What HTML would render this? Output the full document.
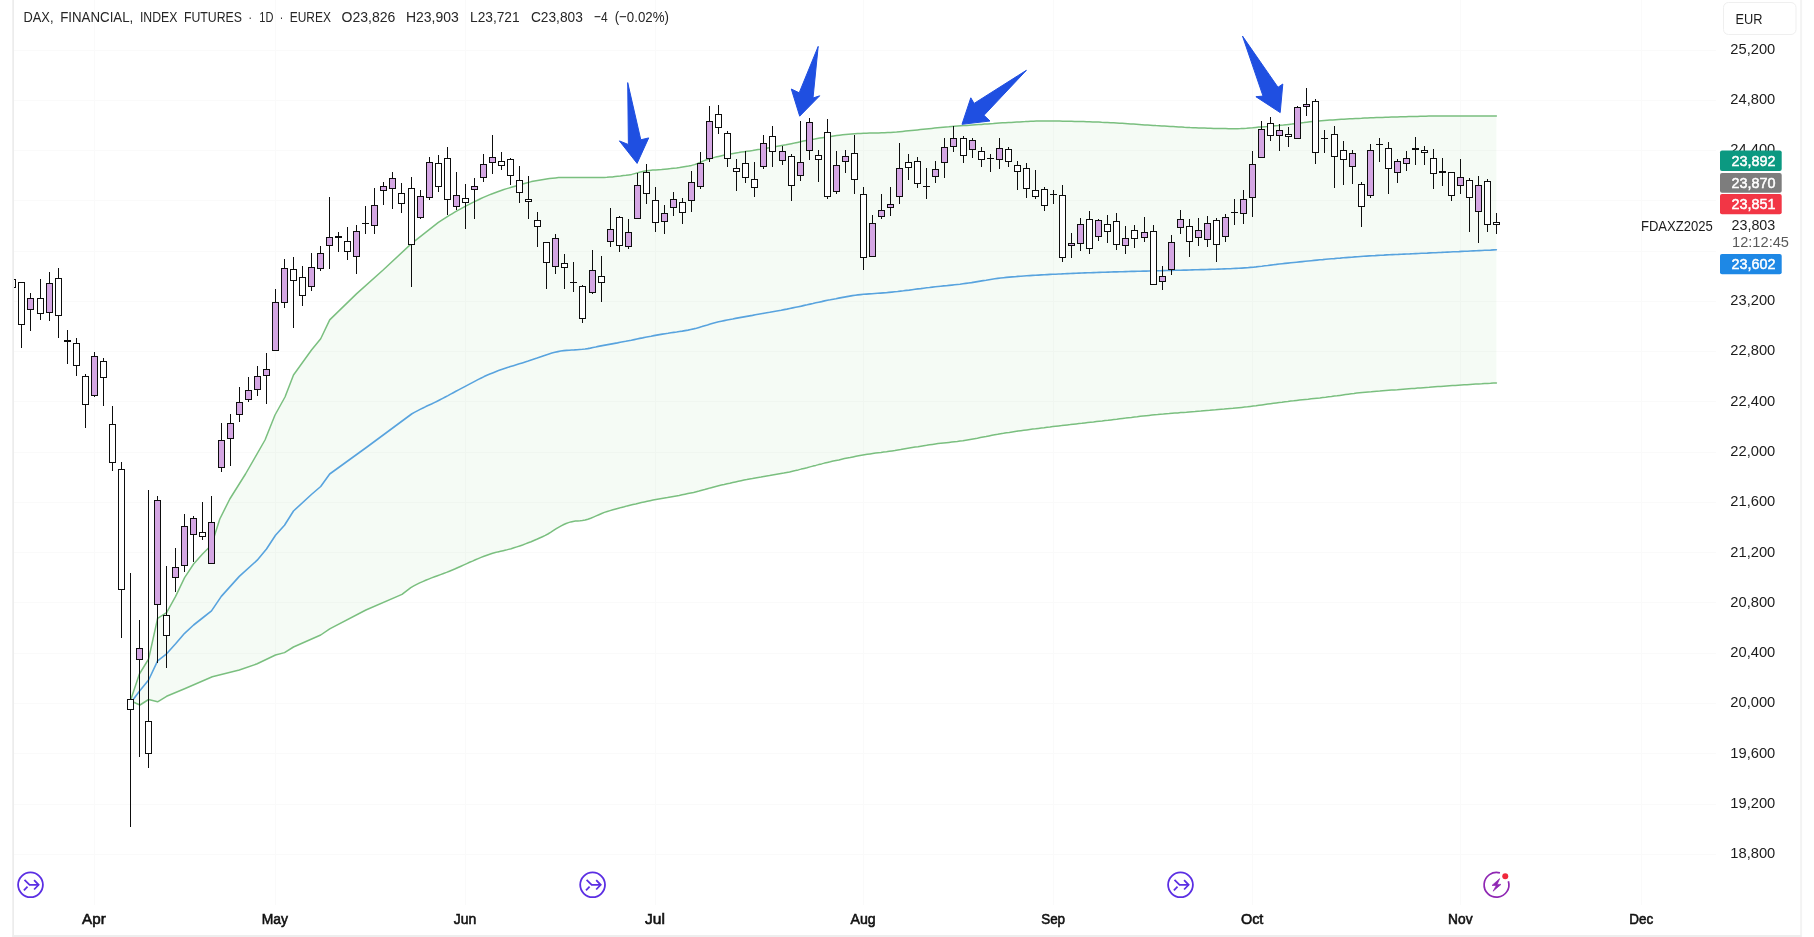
<!DOCTYPE html>
<html lang="en"><head><meta charset="utf-8"><title>DAX, FINANCIAL, INDEX FUTURES</title>
<style>
html,body{margin:0;padding:0;background:#fff;}
body{width:1814px;height:937px;overflow:hidden;position:relative;font-family:"Liberation Sans",sans-serif;}
svg{position:absolute;left:0;top:0;display:block;will-change:transform;}
text{font-family:"Liberation Sans",sans-serif;}
.ax{font-size:15px;fill:#1c1c1c;}
.mo{font-size:15.4px;fill:#111;stroke:#111;stroke-width:0.6px;}
.tag{font-size:14.8px;fill:#fff;stroke:#fff;stroke-width:0.5px;}
.hd{font-size:15.4px;fill:#262626;}
</style></head><body>
<svg width="1814" height="937" viewBox="0 0 1814 937">
<defs><clipPath id="pane"><rect x="14" y="0" width="1703" height="905"/></clipPath></defs>
<rect x="0" y="0" width="1814" height="937" fill="#ffffff"/>
<rect x="12.3" y="0" width="1.7" height="937" fill="#ececec"/>
<rect x="1800.1" y="0" width="2" height="937" fill="#f3f3f3"/>
<rect x="12.3" y="935" width="1789" height="2" fill="#eeeeee"/>
<g stroke="#fafafa" stroke-width="1" shape-rendering="crispEdges">
<line x1="94.5" y1="0" x2="94.5" y2="905"/>
<line x1="275.5" y1="0" x2="275.5" y2="905"/>
<line x1="465.5" y1="0" x2="465.5" y2="905"/>
<line x1="655.5" y1="0" x2="655.5" y2="905"/>
<line x1="863.5" y1="0" x2="863.5" y2="905"/>
<line x1="1053.5" y1="0" x2="1053.5" y2="905"/>
<line x1="1252.5" y1="0" x2="1252.5" y2="905"/>
<line x1="1460.5" y1="0" x2="1460.5" y2="905"/>
<line x1="1641.5" y1="0" x2="1641.5" y2="905"/>
<line x1="14" y1="50.5" x2="1716" y2="50.5"/>
<line x1="14" y1="100.5" x2="1716" y2="100.5"/>
<line x1="14" y1="150.5" x2="1716" y2="150.5"/>
<line x1="14" y1="200.5" x2="1716" y2="200.5"/>
<line x1="14" y1="251.5" x2="1716" y2="251.5"/>
<line x1="14" y1="301.5" x2="1716" y2="301.5"/>
<line x1="14" y1="351.5" x2="1716" y2="351.5"/>
<line x1="14" y1="401.5" x2="1716" y2="401.5"/>
<line x1="14" y1="452.5" x2="1716" y2="452.5"/>
<line x1="14" y1="502.5" x2="1716" y2="502.5"/>
<line x1="14" y1="552.5" x2="1716" y2="552.5"/>
<line x1="14" y1="602.5" x2="1716" y2="602.5"/>
<line x1="14" y1="653.5" x2="1716" y2="653.5"/>
<line x1="14" y1="703.5" x2="1716" y2="703.5"/>
<line x1="14" y1="753.5" x2="1716" y2="753.5"/>
<line x1="14" y1="804.5" x2="1716" y2="804.5"/>
<line x1="14" y1="854.5" x2="1716" y2="854.5"/>
</g>
<g clip-path="url(#pane)">
<polygon fill="#4caf50" fill-opacity="0.055" points="131.0,699.0 139.4,674.0 148.6,659.0 157.6,618.4 166.6,612.6 175.6,596.4 184.6,577.6 193.6,564.0 202.5,554.0 211.5,545.0 219.8,519.0 229.8,499.0 245.5,474.0 265.0,440.0 275.0,415.0 285.0,397.0 293.5,375.0 311.5,350.0 320.7,338.7 329.7,319.9 356.7,293.6 383.4,269.8 411.4,243.6 438.4,222.4 441.1,220.6 443.8,218.8 446.6,217.1 449.3,215.4 452.0,213.8 454.7,212.2 457.4,210.6 460.2,209.1 462.9,207.6 465.6,206.2 468.6,204.7 471.5,203.1 474.5,201.6 477.5,200.2 480.4,198.8 483.4,197.4 486.4,196.1 489.3,194.9 492.3,193.7 495.0,192.7 497.7,191.7 500.5,190.7 503.2,189.8 505.9,188.9 508.6,188.1 511.3,187.3 514.1,186.5 516.8,185.7 519.5,184.9 522.5,184.0 525.5,183.2 528.5,182.4 531.5,181.6 534.5,180.9 537.5,180.4 540.5,179.9 543.5,179.4 546.5,179.0 549.5,178.6 552.5,178.2 555.5,177.9 558.5,177.6 561.5,177.5 564.5,177.4 567.3,177.4 570.2,177.4 573.0,177.4 575.9,177.4 578.7,177.4 581.6,177.4 584.4,177.4 587.3,177.4 590.1,177.4 593.0,177.4 595.8,177.4 598.7,177.4 601.5,177.4 604.2,177.4 606.9,177.3 609.7,177.1 612.4,176.9 615.1,176.6 617.8,176.3 620.5,176.0 623.3,175.6 626.0,175.3 628.7,174.9 631.7,174.4 634.7,173.6 637.7,172.8 640.7,171.9 643.7,171.2 646.7,170.7 649.7,170.4 652.7,170.1 655.7,169.9 658.6,169.7 661.6,169.5 664.6,169.2 667.6,168.9 670.6,168.6 673.6,168.2 676.6,167.9 679.6,167.5 682.6,167.0 685.6,166.5 688.6,166.0 691.6,165.4 694.6,164.6 697.6,163.5 700.6,162.2 703.6,160.9 706.6,159.7 709.6,158.7 712.6,157.9 715.6,157.1 718.6,156.4 721.6,155.7 724.6,155.1 727.6,154.5 730.4,154.0 733.2,153.5 735.9,153.0 738.7,152.6 741.5,152.1 744.3,151.7 747.0,151.3 749.8,150.9 752.6,150.5 755.4,150.0 758.1,149.6 760.9,149.2 763.7,148.7 766.5,148.2 769.2,147.7 772.0,147.3 774.8,146.8 777.5,146.3 780.3,145.8 783.1,145.3 785.9,144.8 788.6,144.2 791.4,143.7 794.4,143.1 797.4,142.4 800.4,141.8 803.4,141.1 806.4,140.5 809.4,139.9 812.0,139.4 814.6,139.0 817.2,138.5 819.8,138.1 822.4,137.7 825.0,137.3 827.6,136.9 830.6,136.5 833.6,136.0 836.6,135.6 839.6,135.2 842.6,134.8 845.6,134.5 848.6,134.2 851.6,133.9 854.6,133.7 857.6,133.5 860.6,133.4 863.6,133.3 866.6,133.2 869.6,133.1 872.6,133.0 875.6,133.0 878.6,132.9 881.6,132.8 884.6,132.7 887.6,132.5 890.6,132.4 893.6,132.2 896.6,132.0 899.6,131.7 902.6,131.4 905.5,131.1 908.5,130.8 911.5,130.5 914.5,130.2 917.5,129.9 920.3,129.6 923.2,129.3 926.0,129.0 928.9,128.7 931.7,128.4 934.6,128.1 937.4,127.8 940.3,127.5 943.1,127.2 946.0,126.9 948.8,126.7 951.7,126.4 954.5,126.2 957.5,126.0 960.5,125.8 963.5,125.6 966.5,125.4 969.5,125.2 972.5,125.0 975.5,124.8 978.5,124.6 981.5,124.4 984.5,124.1 987.5,123.9 990.5,123.7 993.4,123.5 996.4,123.2 999.4,123.0 1002.4,122.8 1005.4,122.7 1008.4,122.5 1011.2,122.4 1014.0,122.2 1016.8,122.0 1019.6,121.9 1022.4,121.7 1025.2,121.6 1027.9,121.4 1030.7,121.3 1033.5,121.2 1036.3,121.1 1039.1,121.1 1041.9,121.0 1044.7,121.0 1047.7,121.0 1050.7,121.0 1053.7,121.0 1056.7,121.1 1059.7,121.1 1062.7,121.2 1065.6,121.2 1068.6,121.3 1071.6,121.3 1074.6,121.4 1077.6,121.4 1080.6,121.5 1083.6,121.6 1086.6,121.7 1089.6,121.8 1092.6,121.9 1095.6,122.0 1098.6,122.1 1101.6,122.3 1104.6,122.4 1107.6,122.5 1110.6,122.7 1113.6,122.8 1116.6,123.0 1119.4,123.2 1122.2,123.3 1125.0,123.5 1127.9,123.7 1130.7,123.9 1133.5,124.1 1136.3,124.3 1139.1,124.5 1141.9,124.7 1144.8,124.9 1147.6,125.0 1150.4,125.2 1153.2,125.4 1156.0,125.6 1158.9,125.7 1161.7,125.9 1164.5,126.1 1167.4,126.3 1170.2,126.5 1173.1,126.6 1175.9,126.8 1178.7,127.0 1181.6,127.1 1184.4,127.3 1187.2,127.4 1190.1,127.6 1192.9,127.7 1195.8,127.8 1198.6,127.9 1201.6,128.0 1204.6,128.1 1207.6,128.2 1210.6,128.3 1213.6,128.4 1216.6,128.4 1219.6,128.5 1222.6,128.6 1225.6,128.6 1228.6,128.7 1231.6,128.7 1234.6,128.7 1237.6,128.7 1240.6,128.6 1243.6,128.4 1246.6,128.2 1249.6,127.9 1252.6,127.7 1255.6,127.4 1258.6,127.1 1261.6,126.9 1264.3,126.7 1267.0,126.5 1269.8,126.2 1272.5,126.0 1275.2,125.7 1277.9,125.5 1280.6,125.2 1283.4,125.0 1286.1,124.7 1288.8,124.4 1291.8,124.1 1294.8,123.7 1297.8,123.3 1300.8,122.9 1303.8,122.6 1306.8,122.2 1309.8,121.8 1312.8,121.5 1315.8,121.2 1318.6,121.0 1321.4,120.7 1324.3,120.5 1327.1,120.3 1329.9,120.1 1332.7,119.9 1335.6,119.7 1338.4,119.5 1341.2,119.3 1344.0,119.2 1346.9,119.0 1349.7,118.8 1352.5,118.7 1355.5,118.5 1358.5,118.4 1361.5,118.3 1364.5,118.1 1367.5,118.0 1370.5,117.8 1373.5,117.7 1376.4,117.6 1379.4,117.5 1382.4,117.4 1385.4,117.3 1388.4,117.2 1391.4,117.1 1394.4,117.0 1397.4,116.9 1400.3,116.8 1403.1,116.8 1406.0,116.7 1408.8,116.6 1411.7,116.5 1414.5,116.5 1417.4,116.4 1420.2,116.3 1423.1,116.3 1425.9,116.2 1428.8,116.1 1431.6,116.1 1434.5,116.0 1437.3,116.0 1440.2,116.0 1443.0,115.9 1445.9,115.9 1448.7,115.9 1451.6,115.9 1454.6,115.9 1457.6,115.9 1460.6,115.9 1463.5,115.9 1466.5,115.9 1469.5,115.9 1472.5,115.9 1475.5,115.9 1478.5,115.9 1481.5,115.9 1484.5,115.9 1487.4,115.9 1490.4,115.9 1493.4,115.9 1496.4,115.9 1496.4,382.9 1493.5,383.1 1490.5,383.3 1487.6,383.4 1484.7,383.6 1481.7,383.8 1478.8,383.9 1475.8,384.1 1472.9,384.3 1470.0,384.5 1467.0,384.7 1464.1,384.8 1461.2,385.0 1458.2,385.2 1455.3,385.4 1452.4,385.6 1449.5,385.8 1446.6,386.0 1443.7,386.2 1440.8,386.4 1437.9,386.6 1435.0,386.8 1432.1,387.0 1429.2,387.3 1426.3,387.5 1423.4,387.7 1420.5,387.9 1417.6,388.1 1414.7,388.4 1411.8,388.6 1408.9,388.8 1406.0,389.0 1403.1,389.2 1400.2,389.4 1397.3,389.7 1394.4,389.9 1391.5,390.1 1388.6,390.3 1385.7,390.5 1382.7,390.7 1379.8,391.0 1376.9,391.2 1374.0,391.4 1371.1,391.7 1368.2,391.9 1365.3,392.2 1362.4,392.5 1359.6,392.8 1356.8,393.1 1354.0,393.5 1351.2,393.8 1348.4,394.2 1345.5,394.6 1342.7,395.0 1339.9,395.4 1337.1,395.8 1334.3,396.1 1331.5,396.5 1328.6,396.8 1325.7,397.2 1322.8,397.5 1319.9,397.9 1317.0,398.2 1314.1,398.5 1311.2,398.8 1308.2,399.2 1305.3,399.5 1302.4,399.8 1299.5,400.1 1296.6,400.4 1293.7,400.8 1290.8,401.1 1287.9,401.5 1285.0,401.8 1282.1,402.2 1279.2,402.5 1276.3,402.9 1273.5,403.3 1270.6,403.7 1267.7,404.1 1264.8,404.5 1261.9,404.9 1259.0,405.3 1256.1,405.7 1253.2,406.0 1250.4,406.4 1247.5,406.8 1244.6,407.1 1241.7,407.4 1238.8,407.7 1235.9,408.0 1233.0,408.3 1230.1,408.5 1227.1,408.8 1224.2,409.1 1221.3,409.3 1218.4,409.5 1215.5,409.8 1212.6,410.0 1209.7,410.3 1206.8,410.5 1203.8,410.7 1200.9,411.0 1198.0,411.2 1195.1,411.5 1192.2,411.7 1189.3,411.9 1186.4,412.2 1183.6,412.4 1180.7,412.6 1177.8,412.9 1174.9,413.1 1172.1,413.3 1169.2,413.6 1166.3,413.8 1163.4,414.1 1160.5,414.3 1157.7,414.6 1154.8,414.8 1151.9,415.1 1149.0,415.4 1146.1,415.7 1143.1,416.0 1140.2,416.3 1137.3,416.7 1134.4,417.0 1131.4,417.4 1128.5,417.7 1125.6,418.1 1122.7,418.4 1119.8,418.8 1116.8,419.2 1113.9,419.5 1111.0,419.9 1108.1,420.3 1105.1,420.6 1102.2,421.0 1099.3,421.3 1096.4,421.6 1093.5,422.0 1090.6,422.3 1087.7,422.6 1084.8,422.9 1081.9,423.3 1079.0,423.6 1076.1,423.9 1073.2,424.2 1070.3,424.6 1067.4,424.9 1064.5,425.2 1061.6,425.6 1058.7,425.9 1055.8,426.2 1052.9,426.6 1050.0,427.0 1047.1,427.3 1044.2,427.7 1041.3,428.0 1038.4,428.4 1035.5,428.8 1032.6,429.1 1029.7,429.5 1026.7,429.9 1023.8,430.3 1020.9,430.7 1018.0,431.1 1015.1,431.5 1012.2,431.9 1009.3,432.4 1006.4,432.8 1003.5,433.3 1000.6,433.7 997.7,434.3 994.8,434.8 991.9,435.3 989.0,435.9 986.1,436.5 983.2,437.0 980.3,437.6 977.4,438.2 974.5,438.7 971.6,439.2 968.7,439.7 965.8,440.2 962.9,440.7 960.0,441.1 957.3,441.5 954.5,441.8 951.8,442.1 949.0,442.4 946.3,442.7 943.5,443.0 940.8,443.3 938.0,443.6 935.3,444.0 932.4,444.4 929.5,444.8 926.6,445.3 923.8,445.7 920.9,446.2 918.0,446.7 915.1,447.1 912.2,447.6 909.3,448.1 906.4,448.6 903.5,449.1 900.7,449.6 897.8,450.0 894.9,450.5 892.0,450.9 889.2,451.3 886.5,451.7 883.7,452.0 881.0,452.4 878.2,452.7 875.5,453.1 872.7,453.5 870.0,453.9 867.2,454.3 864.4,454.8 861.5,455.3 858.7,455.8 855.9,456.3 853.0,456.9 850.2,457.5 847.4,458.0 844.5,458.6 841.7,459.2 838.9,459.9 836.0,460.5 833.2,461.1 830.3,461.8 827.4,462.4 824.5,463.1 821.6,463.9 818.7,464.6 815.8,465.4 812.9,466.1 810.0,466.9 807.0,467.7 804.1,468.4 801.2,469.1 798.3,469.9 795.4,470.6 792.5,471.2 789.6,471.9 786.7,472.5 783.8,473.1 781.0,473.6 778.1,474.1 775.3,474.6 772.4,475.1 769.6,475.6 766.7,476.0 763.9,476.5 761.0,477.0 758.2,477.4 755.3,477.9 752.5,478.5 749.6,479.0 746.8,479.6 744.0,480.1 741.1,480.7 738.3,481.3 735.5,481.9 732.7,482.5 729.9,483.2 727.1,483.8 724.2,484.5 721.4,485.1 718.6,485.8 715.8,486.5 713.0,487.2 710.3,487.9 707.5,488.7 704.7,489.5 701.9,490.2 699.1,491.0 696.4,491.7 693.6,492.4 690.8,493.0 687.9,493.6 685.0,494.2 682.1,494.8 679.2,495.4 676.3,495.9 673.4,496.4 670.5,496.9 667.5,497.5 664.6,498.0 661.7,498.5 658.8,499.0 655.9,499.5 653.0,500.1 650.1,500.7 647.2,501.3 644.3,501.9 641.4,502.5 638.6,503.2 635.7,503.9 632.9,504.5 630.0,505.2 627.2,505.9 624.3,506.7 621.5,507.4 618.6,508.2 615.8,509.0 612.9,509.8 610.1,510.6 607.2,511.5 604.4,512.4 601.7,513.5 598.9,514.7 596.2,515.9 593.4,517.1 590.7,518.2 587.9,519.2 585.2,520.0 582.4,520.5 580.1,520.8 577.8,520.9 575.4,521.1 573.1,521.4 570.8,521.9 568.5,522.6 566.1,523.5 563.8,524.5 561.2,525.8 558.5,527.3 555.9,528.9 553.2,530.7 550.6,532.4 547.9,534.0 545.3,535.4 542.5,536.7 539.6,538.0 536.8,539.3 533.9,540.5 531.1,541.7 528.2,542.8 525.4,543.9 522.6,545.0 519.7,546.0 516.9,546.9 514.0,547.8 511.2,548.7 508.5,549.4 505.9,550.1 503.2,550.7 500.6,551.3 497.9,551.9 495.3,552.6 492.6,553.3 489.7,554.2 486.9,555.2 484.0,556.3 481.1,557.4 478.2,558.6 475.4,559.8 472.5,561.1 469.6,562.3 466.8,563.6 463.9,564.9 461.0,566.2 458.1,567.5 455.3,568.8 452.4,570.0 449.4,571.2 446.5,572.4 443.5,573.5 440.5,574.6 437.5,575.7 434.6,576.8 431.6,577.9 428.6,579.1 425.7,580.3 422.7,581.6 419.7,582.9 416.7,584.4 413.8,585.9 410.8,587.6 402.0,594.4 365.9,610.0 329.7,628.8 320.7,635.0 293.5,647.0 284.5,652.6 275.5,655.0 257.2,663.8 239.3,670.0 212.3,676.8 184.6,688.8 166.6,696.3 157.6,701.8 148.6,699.5 140.0,705.0 136.0,703.3 131.0,701.0"/>
<polyline fill="none" stroke="#7abf7f" stroke-width="1.5" stroke-linejoin="round" stroke-linecap="round" points="131.0,699.0 139.4,674.0 148.6,659.0 157.6,618.4 166.6,612.6 175.6,596.4 184.6,577.6 193.6,564.0 202.5,554.0 211.5,545.0 219.8,519.0 229.8,499.0 245.5,474.0 265.0,440.0 275.0,415.0 285.0,397.0 293.5,375.0 311.5,350.0 320.7,338.7 329.7,319.9 356.7,293.6 383.4,269.8 411.4,243.6 438.4,222.4 441.1,220.6 443.8,218.8 446.6,217.1 449.3,215.4 452.0,213.8 454.7,212.2 457.4,210.6 460.2,209.1 462.9,207.6 465.6,206.2 468.6,204.7 471.5,203.1 474.5,201.6 477.5,200.2 480.4,198.8 483.4,197.4 486.4,196.1 489.3,194.9 492.3,193.7 495.0,192.7 497.7,191.7 500.5,190.7 503.2,189.8 505.9,188.9 508.6,188.1 511.3,187.3 514.1,186.5 516.8,185.7 519.5,184.9 522.5,184.0 525.5,183.2 528.5,182.4 531.5,181.6 534.5,180.9 537.5,180.4 540.5,179.9 543.5,179.4 546.5,179.0 549.5,178.6 552.5,178.2 555.5,177.9 558.5,177.6 561.5,177.5 564.5,177.4 567.3,177.4 570.2,177.4 573.0,177.4 575.9,177.4 578.7,177.4 581.6,177.4 584.4,177.4 587.3,177.4 590.1,177.4 593.0,177.4 595.8,177.4 598.7,177.4 601.5,177.4 604.2,177.4 606.9,177.3 609.7,177.1 612.4,176.9 615.1,176.6 617.8,176.3 620.5,176.0 623.3,175.6 626.0,175.3 628.7,174.9 631.7,174.4 634.7,173.6 637.7,172.8 640.7,171.9 643.7,171.2 646.7,170.7 649.7,170.4 652.7,170.1 655.7,169.9 658.6,169.7 661.6,169.5 664.6,169.2 667.6,168.9 670.6,168.6 673.6,168.2 676.6,167.9 679.6,167.5 682.6,167.0 685.6,166.5 688.6,166.0 691.6,165.4 694.6,164.6 697.6,163.5 700.6,162.2 703.6,160.9 706.6,159.7 709.6,158.7 712.6,157.9 715.6,157.1 718.6,156.4 721.6,155.7 724.6,155.1 727.6,154.5 730.4,154.0 733.2,153.5 735.9,153.0 738.7,152.6 741.5,152.1 744.3,151.7 747.0,151.3 749.8,150.9 752.6,150.5 755.4,150.0 758.1,149.6 760.9,149.2 763.7,148.7 766.5,148.2 769.2,147.7 772.0,147.3 774.8,146.8 777.5,146.3 780.3,145.8 783.1,145.3 785.9,144.8 788.6,144.2 791.4,143.7 794.4,143.1 797.4,142.4 800.4,141.8 803.4,141.1 806.4,140.5 809.4,139.9 812.0,139.4 814.6,139.0 817.2,138.5 819.8,138.1 822.4,137.7 825.0,137.3 827.6,136.9 830.6,136.5 833.6,136.0 836.6,135.6 839.6,135.2 842.6,134.8 845.6,134.5 848.6,134.2 851.6,133.9 854.6,133.7 857.6,133.5 860.6,133.4 863.6,133.3 866.6,133.2 869.6,133.1 872.6,133.0 875.6,133.0 878.6,132.9 881.6,132.8 884.6,132.7 887.6,132.5 890.6,132.4 893.6,132.2 896.6,132.0 899.6,131.7 902.6,131.4 905.5,131.1 908.5,130.8 911.5,130.5 914.5,130.2 917.5,129.9 920.3,129.6 923.2,129.3 926.0,129.0 928.9,128.7 931.7,128.4 934.6,128.1 937.4,127.8 940.3,127.5 943.1,127.2 946.0,126.9 948.8,126.7 951.7,126.4 954.5,126.2 957.5,126.0 960.5,125.8 963.5,125.6 966.5,125.4 969.5,125.2 972.5,125.0 975.5,124.8 978.5,124.6 981.5,124.4 984.5,124.1 987.5,123.9 990.5,123.7 993.4,123.5 996.4,123.2 999.4,123.0 1002.4,122.8 1005.4,122.7 1008.4,122.5 1011.2,122.4 1014.0,122.2 1016.8,122.0 1019.6,121.9 1022.4,121.7 1025.2,121.6 1027.9,121.4 1030.7,121.3 1033.5,121.2 1036.3,121.1 1039.1,121.1 1041.9,121.0 1044.7,121.0 1047.7,121.0 1050.7,121.0 1053.7,121.0 1056.7,121.1 1059.7,121.1 1062.7,121.2 1065.6,121.2 1068.6,121.3 1071.6,121.3 1074.6,121.4 1077.6,121.4 1080.6,121.5 1083.6,121.6 1086.6,121.7 1089.6,121.8 1092.6,121.9 1095.6,122.0 1098.6,122.1 1101.6,122.3 1104.6,122.4 1107.6,122.5 1110.6,122.7 1113.6,122.8 1116.6,123.0 1119.4,123.2 1122.2,123.3 1125.0,123.5 1127.9,123.7 1130.7,123.9 1133.5,124.1 1136.3,124.3 1139.1,124.5 1141.9,124.7 1144.8,124.9 1147.6,125.0 1150.4,125.2 1153.2,125.4 1156.0,125.6 1158.9,125.7 1161.7,125.9 1164.5,126.1 1167.4,126.3 1170.2,126.5 1173.1,126.6 1175.9,126.8 1178.7,127.0 1181.6,127.1 1184.4,127.3 1187.2,127.4 1190.1,127.6 1192.9,127.7 1195.8,127.8 1198.6,127.9 1201.6,128.0 1204.6,128.1 1207.6,128.2 1210.6,128.3 1213.6,128.4 1216.6,128.4 1219.6,128.5 1222.6,128.6 1225.6,128.6 1228.6,128.7 1231.6,128.7 1234.6,128.7 1237.6,128.7 1240.6,128.6 1243.6,128.4 1246.6,128.2 1249.6,127.9 1252.6,127.7 1255.6,127.4 1258.6,127.1 1261.6,126.9 1264.3,126.7 1267.0,126.5 1269.8,126.2 1272.5,126.0 1275.2,125.7 1277.9,125.5 1280.6,125.2 1283.4,125.0 1286.1,124.7 1288.8,124.4 1291.8,124.1 1294.8,123.7 1297.8,123.3 1300.8,122.9 1303.8,122.6 1306.8,122.2 1309.8,121.8 1312.8,121.5 1315.8,121.2 1318.6,121.0 1321.4,120.7 1324.3,120.5 1327.1,120.3 1329.9,120.1 1332.7,119.9 1335.6,119.7 1338.4,119.5 1341.2,119.3 1344.0,119.2 1346.9,119.0 1349.7,118.8 1352.5,118.7 1355.5,118.5 1358.5,118.4 1361.5,118.3 1364.5,118.1 1367.5,118.0 1370.5,117.8 1373.5,117.7 1376.4,117.6 1379.4,117.5 1382.4,117.4 1385.4,117.3 1388.4,117.2 1391.4,117.1 1394.4,117.0 1397.4,116.9 1400.3,116.8 1403.1,116.8 1406.0,116.7 1408.8,116.6 1411.7,116.5 1414.5,116.5 1417.4,116.4 1420.2,116.3 1423.1,116.3 1425.9,116.2 1428.8,116.1 1431.6,116.1 1434.5,116.0 1437.3,116.0 1440.2,116.0 1443.0,115.9 1445.9,115.9 1448.7,115.9 1451.6,115.9 1454.6,115.9 1457.6,115.9 1460.6,115.9 1463.5,115.9 1466.5,115.9 1469.5,115.9 1472.5,115.9 1475.5,115.9 1478.5,115.9 1481.5,115.9 1484.5,115.9 1487.4,115.9 1490.4,115.9 1493.4,115.9 1496.4,115.9"/>
<polyline fill="none" stroke="#7abf7f" stroke-width="1.5" stroke-linejoin="round" stroke-linecap="round" points="131.0,701.0 136.0,703.3 140.0,705.0 148.6,699.5 157.6,701.8 166.6,696.3 184.6,688.8 212.3,676.8 239.3,670.0 257.2,663.8 275.5,655.0 284.5,652.6 293.5,647.0 320.7,635.0 329.7,628.8 365.9,610.0 402.0,594.4 410.8,587.6 413.8,585.9 416.7,584.4 419.7,582.9 422.7,581.6 425.7,580.3 428.6,579.1 431.6,577.9 434.6,576.8 437.5,575.7 440.5,574.6 443.5,573.5 446.5,572.4 449.4,571.2 452.4,570.0 455.3,568.8 458.1,567.5 461.0,566.2 463.9,564.9 466.8,563.6 469.6,562.3 472.5,561.1 475.4,559.8 478.2,558.6 481.1,557.4 484.0,556.3 486.9,555.2 489.7,554.2 492.6,553.3 495.3,552.6 497.9,551.9 500.6,551.3 503.2,550.7 505.9,550.1 508.5,549.4 511.2,548.7 514.0,547.8 516.9,546.9 519.7,546.0 522.6,545.0 525.4,543.9 528.2,542.8 531.1,541.7 533.9,540.5 536.8,539.3 539.6,538.0 542.5,536.7 545.3,535.4 547.9,534.0 550.6,532.4 553.2,530.7 555.9,528.9 558.5,527.3 561.2,525.8 563.8,524.5 566.1,523.5 568.5,522.6 570.8,521.9 573.1,521.4 575.4,521.1 577.8,520.9 580.1,520.8 582.4,520.5 585.2,520.0 587.9,519.2 590.7,518.2 593.4,517.1 596.2,515.9 598.9,514.7 601.7,513.5 604.4,512.4 607.2,511.5 610.1,510.6 612.9,509.8 615.8,509.0 618.6,508.2 621.5,507.4 624.3,506.7 627.2,505.9 630.0,505.2 632.9,504.5 635.7,503.9 638.6,503.2 641.4,502.5 644.3,501.9 647.2,501.3 650.1,500.7 653.0,500.1 655.9,499.5 658.8,499.0 661.7,498.5 664.6,498.0 667.5,497.5 670.5,496.9 673.4,496.4 676.3,495.9 679.2,495.4 682.1,494.8 685.0,494.2 687.9,493.6 690.8,493.0 693.6,492.4 696.4,491.7 699.1,491.0 701.9,490.2 704.7,489.5 707.5,488.7 710.3,487.9 713.0,487.2 715.8,486.5 718.6,485.8 721.4,485.1 724.2,484.5 727.1,483.8 729.9,483.2 732.7,482.5 735.5,481.9 738.3,481.3 741.1,480.7 744.0,480.1 746.8,479.6 749.6,479.0 752.5,478.5 755.3,477.9 758.2,477.4 761.0,477.0 763.9,476.5 766.7,476.0 769.6,475.6 772.4,475.1 775.3,474.6 778.1,474.1 781.0,473.6 783.8,473.1 786.7,472.5 789.6,471.9 792.5,471.2 795.4,470.6 798.3,469.9 801.2,469.1 804.1,468.4 807.0,467.7 810.0,466.9 812.9,466.1 815.8,465.4 818.7,464.6 821.6,463.9 824.5,463.1 827.4,462.4 830.3,461.8 833.2,461.1 836.0,460.5 838.9,459.9 841.7,459.2 844.5,458.6 847.4,458.0 850.2,457.5 853.0,456.9 855.9,456.3 858.7,455.8 861.5,455.3 864.4,454.8 867.2,454.3 870.0,453.9 872.7,453.5 875.5,453.1 878.2,452.7 881.0,452.4 883.7,452.0 886.5,451.7 889.2,451.3 892.0,450.9 894.9,450.5 897.8,450.0 900.7,449.6 903.5,449.1 906.4,448.6 909.3,448.1 912.2,447.6 915.1,447.1 918.0,446.7 920.9,446.2 923.8,445.7 926.6,445.3 929.5,444.8 932.4,444.4 935.3,444.0 938.0,443.6 940.8,443.3 943.5,443.0 946.3,442.7 949.0,442.4 951.8,442.1 954.5,441.8 957.3,441.5 960.0,441.1 962.9,440.7 965.8,440.2 968.7,439.7 971.6,439.2 974.5,438.7 977.4,438.2 980.3,437.6 983.2,437.0 986.1,436.5 989.0,435.9 991.9,435.3 994.8,434.8 997.7,434.3 1000.6,433.7 1003.5,433.3 1006.4,432.8 1009.3,432.4 1012.2,431.9 1015.1,431.5 1018.0,431.1 1020.9,430.7 1023.8,430.3 1026.7,429.9 1029.7,429.5 1032.6,429.1 1035.5,428.8 1038.4,428.4 1041.3,428.0 1044.2,427.7 1047.1,427.3 1050.0,427.0 1052.9,426.6 1055.8,426.2 1058.7,425.9 1061.6,425.6 1064.5,425.2 1067.4,424.9 1070.3,424.6 1073.2,424.2 1076.1,423.9 1079.0,423.6 1081.9,423.3 1084.8,422.9 1087.7,422.6 1090.6,422.3 1093.5,422.0 1096.4,421.6 1099.3,421.3 1102.2,421.0 1105.1,420.6 1108.1,420.3 1111.0,419.9 1113.9,419.5 1116.8,419.2 1119.8,418.8 1122.7,418.4 1125.6,418.1 1128.5,417.7 1131.4,417.4 1134.4,417.0 1137.3,416.7 1140.2,416.3 1143.1,416.0 1146.1,415.7 1149.0,415.4 1151.9,415.1 1154.8,414.8 1157.7,414.6 1160.5,414.3 1163.4,414.1 1166.3,413.8 1169.2,413.6 1172.1,413.3 1174.9,413.1 1177.8,412.9 1180.7,412.6 1183.6,412.4 1186.4,412.2 1189.3,411.9 1192.2,411.7 1195.1,411.5 1198.0,411.2 1200.9,411.0 1203.8,410.7 1206.8,410.5 1209.7,410.3 1212.6,410.0 1215.5,409.8 1218.4,409.5 1221.3,409.3 1224.2,409.1 1227.1,408.8 1230.1,408.5 1233.0,408.3 1235.9,408.0 1238.8,407.7 1241.7,407.4 1244.6,407.1 1247.5,406.8 1250.4,406.4 1253.2,406.0 1256.1,405.7 1259.0,405.3 1261.9,404.9 1264.8,404.5 1267.7,404.1 1270.6,403.7 1273.5,403.3 1276.3,402.9 1279.2,402.5 1282.1,402.2 1285.0,401.8 1287.9,401.5 1290.8,401.1 1293.7,400.8 1296.6,400.4 1299.5,400.1 1302.4,399.8 1305.3,399.5 1308.2,399.2 1311.2,398.8 1314.1,398.5 1317.0,398.2 1319.9,397.9 1322.8,397.5 1325.7,397.2 1328.6,396.8 1331.5,396.5 1334.3,396.1 1337.1,395.8 1339.9,395.4 1342.7,395.0 1345.5,394.6 1348.4,394.2 1351.2,393.8 1354.0,393.5 1356.8,393.1 1359.6,392.8 1362.4,392.5 1365.3,392.2 1368.2,391.9 1371.1,391.7 1374.0,391.4 1376.9,391.2 1379.8,391.0 1382.7,390.7 1385.7,390.5 1388.6,390.3 1391.5,390.1 1394.4,389.9 1397.3,389.7 1400.2,389.4 1403.1,389.2 1406.0,389.0 1408.9,388.8 1411.8,388.6 1414.7,388.4 1417.6,388.1 1420.5,387.9 1423.4,387.7 1426.3,387.5 1429.2,387.3 1432.1,387.0 1435.0,386.8 1437.9,386.6 1440.8,386.4 1443.7,386.2 1446.6,386.0 1449.5,385.8 1452.4,385.6 1455.3,385.4 1458.2,385.2 1461.2,385.0 1464.1,384.8 1467.0,384.7 1470.0,384.5 1472.9,384.3 1475.8,384.1 1478.8,383.9 1481.7,383.8 1484.7,383.6 1487.6,383.4 1490.5,383.3 1493.5,383.1 1496.4,382.9"/>
<polyline fill="none" stroke="#58a3de" stroke-width="1.6" stroke-linejoin="round" stroke-linecap="round" points="131.0,702.5 139.4,691.3 148.6,680.0 157.6,660.8 166.6,653.8 175.6,643.8 184.6,633.3 193.6,625.0 202.5,618.0 211.5,610.9 221.3,596.4 239.3,576.4 257.2,560.2 266.5,549.0 275.5,535.2 284.5,525.2 293.5,511.0 311.4,494.5 320.7,486.5 329.7,474.0 367.0,447.0 411.6,414.0 414.4,412.4 417.3,410.9 420.1,409.4 423.0,408.0 425.8,406.6 428.6,405.3 431.5,404.0 434.3,402.6 437.2,401.2 440.0,399.8 442.7,398.4 445.3,397.0 448.0,395.6 450.6,394.1 453.3,392.7 455.9,391.3 458.6,389.9 461.4,388.4 464.3,386.9 467.1,385.4 469.9,383.9 472.8,382.4 475.6,380.9 478.4,379.4 481.3,378.0 484.1,376.6 486.9,375.3 489.8,374.1 492.6,372.9 495.6,371.7 498.5,370.6 501.5,369.6 504.5,368.6 507.4,367.6 510.4,366.6 513.4,365.7 516.3,364.8 519.3,363.8 522.3,362.9 525.2,362.0 528.2,361.1 531.2,360.1 534.1,359.1 537.1,358.1 540.1,357.0 543.0,356.0 546.0,354.9 549.0,354.0 551.9,353.1 554.9,352.3 557.9,351.6 560.8,351.0 563.8,350.6 566.5,350.4 569.1,350.2 571.8,350.0 574.4,349.9 577.1,349.7 579.7,349.5 582.4,349.3 585.1,349.0 587.7,348.6 590.4,348.1 593.0,347.5 595.7,347.0 598.3,346.4 601.0,345.9 603.7,345.4 606.5,344.9 609.2,344.4 612.0,343.9 614.7,343.4 617.5,342.9 620.2,342.3 623.0,341.8 625.7,341.3 628.5,340.7 631.3,340.2 634.2,339.6 637.0,339.0 639.8,338.4 642.6,337.9 645.4,337.3 648.2,336.7 651.1,336.2 653.9,335.6 656.7,335.1 659.5,334.6 662.4,334.1 665.2,333.7 668.1,333.3 670.9,332.8 673.8,332.4 676.6,332.0 679.4,331.5 682.3,331.1 685.1,330.6 688.0,330.1 690.8,329.5 693.6,328.9 696.4,328.2 699.1,327.4 701.9,326.6 704.7,325.7 707.5,324.9 710.3,324.0 713.0,323.2 715.8,322.5 718.6,321.8 721.4,321.2 724.2,320.6 727.1,320.0 729.9,319.5 732.7,319.0 735.5,318.4 738.3,317.9 741.1,317.4 744.0,316.9 746.8,316.4 749.6,315.9 752.5,315.4 755.3,314.8 758.2,314.3 761.1,313.8 764.0,313.3 766.8,312.8 769.7,312.3 772.6,311.7 775.4,311.2 778.3,310.7 781.2,310.2 784.1,309.6 786.9,309.1 789.8,308.5 792.7,307.9 795.6,307.3 798.5,306.7 801.4,306.1 804.3,305.4 807.2,304.8 810.1,304.1 812.9,303.5 815.8,302.8 818.7,302.2 821.6,301.6 824.5,300.9 827.4,300.3 830.3,299.8 833.2,299.2 835.9,298.7 838.7,298.1 841.4,297.6 844.2,297.1 846.9,296.6 849.7,296.1 852.4,295.6 855.2,295.2 857.9,294.9 860.7,294.6 863.5,294.3 866.4,294.1 869.2,293.9 872.0,293.7 874.8,293.5 877.6,293.3 880.4,293.1 883.3,292.9 886.1,292.7 888.9,292.4 891.8,292.1 894.7,291.8 897.6,291.5 900.5,291.1 903.4,290.8 906.3,290.4 909.2,290.1 912.1,289.7 915.0,289.3 917.9,288.9 920.8,288.6 923.7,288.2 926.6,287.8 929.5,287.5 932.4,287.1 935.3,286.8 938.0,286.5 940.8,286.2 943.5,285.9 946.3,285.7 949.0,285.4 951.8,285.1 954.5,284.8 957.3,284.5 960.0,284.2 962.9,283.8 965.8,283.4 968.7,283.0 971.6,282.6 974.5,282.1 977.4,281.6 980.3,281.1 983.2,280.6 986.1,280.2 989.0,279.7 991.9,279.2 994.8,278.8 997.7,278.4 1000.6,278.0 1003.5,277.7 1006.4,277.4 1009.3,277.1 1012.2,276.9 1015.1,276.7 1018.0,276.4 1020.9,276.2 1023.8,276.0 1026.7,275.8 1029.7,275.6 1032.6,275.4 1035.5,275.3 1038.4,275.1 1041.3,274.9 1044.2,274.8 1047.1,274.6 1050.0,274.4 1052.9,274.3 1055.8,274.2 1058.7,274.0 1061.6,273.9 1064.5,273.7 1067.4,273.6 1070.3,273.5 1073.2,273.4 1076.1,273.3 1079.0,273.1 1081.9,273.0 1084.8,272.9 1087.7,272.8 1090.6,272.7 1093.5,272.6 1096.4,272.5 1099.3,272.4 1102.2,272.3 1105.1,272.2 1108.1,272.1 1111.0,272.0 1113.9,271.9 1116.8,271.9 1119.8,271.8 1122.7,271.7 1125.6,271.6 1128.5,271.5 1131.4,271.4 1134.4,271.4 1137.3,271.3 1140.2,271.2 1143.1,271.1 1146.1,271.1 1149.0,271.0 1151.9,270.9 1154.8,270.8 1157.7,270.8 1160.5,270.7 1163.4,270.6 1166.3,270.5 1169.2,270.5 1172.1,270.4 1174.9,270.3 1177.8,270.3 1180.7,270.2 1183.6,270.1 1186.4,270.1 1189.3,270.0 1192.2,269.9 1195.1,269.8 1198.0,269.7 1200.9,269.6 1203.8,269.6 1206.8,269.5 1209.7,269.4 1212.6,269.3 1215.5,269.2 1218.4,269.1 1221.3,269.0 1224.2,268.9 1227.1,268.8 1230.1,268.7 1233.0,268.5 1235.9,268.4 1238.8,268.3 1241.7,268.1 1244.6,267.9 1247.5,267.7 1250.4,267.4 1253.2,267.2 1256.1,266.9 1259.0,266.5 1261.9,266.2 1264.8,265.8 1267.7,265.5 1270.6,265.1 1273.5,264.7 1276.3,264.4 1279.2,264.0 1282.1,263.7 1285.0,263.4 1287.9,263.1 1290.8,262.8 1293.7,262.5 1296.6,262.2 1299.5,261.9 1302.4,261.6 1305.3,261.3 1308.2,261.0 1311.2,260.7 1314.1,260.4 1317.0,260.1 1319.9,259.8 1322.8,259.6 1325.7,259.3 1328.6,259.0 1331.5,258.8 1334.4,258.6 1337.3,258.3 1340.2,258.1 1343.1,257.8 1346.0,257.6 1348.9,257.4 1351.8,257.2 1354.8,256.9 1357.7,256.7 1360.6,256.5 1363.5,256.3 1366.4,256.1 1369.3,255.9 1372.2,255.7 1375.1,255.6 1378.0,255.4 1380.9,255.2 1383.8,255.1 1386.7,254.9 1389.6,254.8 1392.5,254.6 1395.4,254.5 1398.3,254.4 1401.2,254.2 1404.0,254.1 1406.9,254.0 1409.8,253.9 1412.7,253.7 1415.6,253.6 1418.5,253.5 1421.4,253.3 1424.3,253.2 1427.2,253.1 1430.1,252.9 1433.0,252.8 1435.8,252.7 1438.7,252.5 1441.6,252.4 1444.5,252.2 1447.4,252.1 1450.3,252.0 1453.1,251.8 1456.0,251.7 1458.9,251.6 1461.8,251.4 1464.7,251.3 1467.6,251.2 1470.4,251.0 1473.3,250.9 1476.2,250.8 1479.1,250.6 1482.0,250.5 1484.9,250.3 1487.7,250.2 1490.6,250.1 1493.5,249.9 1496.4,249.8"/>
<g stroke="#0d0d0d" stroke-width="1">
<line x1="12.5" y1="276" x2="12.5" y2="279.5"/>
<line x1="12.5" y1="287.5" x2="12.5" y2="292"/>
<rect x="9.5" y="279.5" width="6" height="8.0" fill="#ffffff"/>
<line x1="21.5" y1="282" x2="21.5" y2="282.5"/>
<line x1="21.5" y1="324.5" x2="21.5" y2="348"/>
<rect x="18.5" y="282.5" width="6" height="42.0" fill="#ffffff"/>
<line x1="30.5" y1="293" x2="30.5" y2="298.5"/>
<line x1="30.5" y1="309.5" x2="30.5" y2="331"/>
<rect x="27.5" y="298.5" width="6" height="11.0" fill="#d4a6e3"/>
<line x1="40.5" y1="279" x2="40.5" y2="298.5"/>
<line x1="40.5" y1="313.5" x2="40.5" y2="320"/>
<rect x="37.5" y="298.5" width="6" height="15.0" fill="#ffffff"/>
<line x1="49.5" y1="272" x2="49.5" y2="283.5"/>
<line x1="49.5" y1="312.5" x2="49.5" y2="321"/>
<rect x="46.5" y="283.5" width="6" height="29.0" fill="#d4a6e3"/>
<line x1="58.5" y1="268" x2="58.5" y2="278.5"/>
<line x1="58.5" y1="315.5" x2="58.5" y2="338"/>
<rect x="55.5" y="278.5" width="6" height="37.0" fill="#ffffff"/>
<line x1="67.5" y1="330" x2="67.5" y2="340.5"/>
<line x1="67.5" y1="341.5" x2="67.5" y2="364"/>
<rect x="64.5" y="340.5" width="6" height="1.0" fill="#ffffff"/>
<line x1="76.5" y1="338" x2="76.5" y2="343.5"/>
<line x1="76.5" y1="365.5" x2="76.5" y2="376"/>
<rect x="73.5" y="343.5" width="6" height="22.0" fill="#ffffff"/>
<line x1="85.5" y1="374" x2="85.5" y2="376.5"/>
<line x1="85.5" y1="404.5" x2="85.5" y2="428"/>
<rect x="82.5" y="376.5" width="6" height="28.0" fill="#ffffff"/>
<line x1="94.5" y1="352" x2="94.5" y2="356.5"/>
<line x1="94.5" y1="395.5" x2="94.5" y2="397"/>
<rect x="91.5" y="356.5" width="6" height="39.0" fill="#d4a6e3"/>
<line x1="103.5" y1="358" x2="103.5" y2="361.5"/>
<line x1="103.5" y1="377.5" x2="103.5" y2="406"/>
<rect x="100.5" y="361.5" width="6" height="16.0" fill="#ffffff"/>
<line x1="112.5" y1="406" x2="112.5" y2="424.5"/>
<line x1="112.5" y1="462.5" x2="112.5" y2="471"/>
<rect x="109.5" y="424.5" width="6" height="38.0" fill="#ffffff"/>
<line x1="121.5" y1="462" x2="121.5" y2="469.5"/>
<line x1="121.5" y1="589.5" x2="121.5" y2="638"/>
<rect x="118.5" y="469.5" width="6" height="120.0" fill="#ffffff"/>
<line x1="130.5" y1="573" x2="130.5" y2="699.5"/>
<line x1="130.5" y1="709.5" x2="130.5" y2="827"/>
<rect x="127.5" y="699.5" width="6" height="10.0" fill="#ffffff"/>
<line x1="139.5" y1="620" x2="139.5" y2="648.5"/>
<line x1="139.5" y1="659.5" x2="139.5" y2="757"/>
<rect x="136.5" y="648.5" width="6" height="11.0" fill="#d4a6e3"/>
<line x1="148.5" y1="490" x2="148.5" y2="721.5"/>
<line x1="148.5" y1="753.5" x2="148.5" y2="768"/>
<rect x="145.5" y="721.5" width="6" height="32.0" fill="#ffffff"/>
<line x1="157.5" y1="496" x2="157.5" y2="500.5"/>
<line x1="157.5" y1="604.5" x2="157.5" y2="663"/>
<rect x="154.5" y="500.5" width="6" height="104.0" fill="#d4a6e3"/>
<line x1="166.5" y1="566" x2="166.5" y2="615.5"/>
<line x1="166.5" y1="635.5" x2="166.5" y2="668"/>
<rect x="163.5" y="615.5" width="6" height="20.0" fill="#ffffff"/>
<line x1="175.5" y1="548" x2="175.5" y2="567.5"/>
<line x1="175.5" y1="577.5" x2="175.5" y2="592"/>
<rect x="172.5" y="567.5" width="6" height="10.0" fill="#d4a6e3"/>
<line x1="184.5" y1="514" x2="184.5" y2="526.5"/>
<line x1="184.5" y1="565.5" x2="184.5" y2="572"/>
<rect x="181.5" y="526.5" width="6" height="39.0" fill="#d4a6e3"/>
<line x1="193.5" y1="516" x2="193.5" y2="518.5"/>
<line x1="193.5" y1="534.5" x2="193.5" y2="562"/>
<rect x="190.5" y="518.5" width="6" height="16.0" fill="#d4a6e3"/>
<line x1="202.5" y1="502" x2="202.5" y2="532.5"/>
<line x1="202.5" y1="536.5" x2="202.5" y2="540"/>
<rect x="199.5" y="532.5" width="6" height="4.0" fill="#ffffff"/>
<line x1="211.5" y1="496" x2="211.5" y2="522.5"/>
<line x1="211.5" y1="563.5" x2="211.5" y2="564"/>
<rect x="208.5" y="522.5" width="6" height="41.0" fill="#d4a6e3"/>
<line x1="221.5" y1="423" x2="221.5" y2="440.5"/>
<line x1="221.5" y1="467.5" x2="221.5" y2="472"/>
<rect x="218.5" y="440.5" width="6" height="27.0" fill="#d4a6e3"/>
<line x1="230.5" y1="414" x2="230.5" y2="423.5"/>
<line x1="230.5" y1="438.5" x2="230.5" y2="466"/>
<rect x="227.5" y="423.5" width="6" height="15.0" fill="#d4a6e3"/>
<line x1="239.5" y1="387" x2="239.5" y2="402.5"/>
<line x1="239.5" y1="414.5" x2="239.5" y2="422"/>
<rect x="236.5" y="402.5" width="6" height="12.0" fill="#d4a6e3"/>
<line x1="248.5" y1="377" x2="248.5" y2="390.5"/>
<line x1="248.5" y1="399.5" x2="248.5" y2="402"/>
<rect x="245.5" y="390.5" width="6" height="9.0" fill="#d4a6e3"/>
<line x1="257.5" y1="366" x2="257.5" y2="376.5"/>
<line x1="257.5" y1="389.5" x2="257.5" y2="396"/>
<rect x="254.5" y="376.5" width="6" height="13.0" fill="#d4a6e3"/>
<line x1="266.5" y1="353" x2="266.5" y2="369.5"/>
<line x1="266.5" y1="375.5" x2="266.5" y2="404"/>
<rect x="263.5" y="369.5" width="6" height="6.0" fill="#d4a6e3"/>
<line x1="275.5" y1="289" x2="275.5" y2="302.5"/>
<line x1="275.5" y1="350.5" x2="275.5" y2="351"/>
<rect x="272.5" y="302.5" width="6" height="48.0" fill="#d4a6e3"/>
<line x1="284.5" y1="259" x2="284.5" y2="268.5"/>
<line x1="284.5" y1="302.5" x2="284.5" y2="308"/>
<rect x="281.5" y="268.5" width="6" height="34.0" fill="#d4a6e3"/>
<line x1="293.5" y1="257" x2="293.5" y2="269.5"/>
<line x1="293.5" y1="280.5" x2="293.5" y2="328"/>
<rect x="290.5" y="269.5" width="6" height="11.0" fill="#ffffff"/>
<line x1="302.5" y1="266" x2="302.5" y2="277.5"/>
<line x1="302.5" y1="295.5" x2="302.5" y2="306"/>
<rect x="299.5" y="277.5" width="6" height="18.0" fill="#ffffff"/>
<line x1="311.5" y1="253" x2="311.5" y2="267.5"/>
<line x1="311.5" y1="286.5" x2="311.5" y2="291"/>
<rect x="308.5" y="267.5" width="6" height="19.0" fill="#d4a6e3"/>
<line x1="320.5" y1="246" x2="320.5" y2="253.5"/>
<line x1="320.5" y1="268.5" x2="320.5" y2="271"/>
<rect x="317.5" y="253.5" width="6" height="15.0" fill="#d4a6e3"/>
<line x1="329.5" y1="197" x2="329.5" y2="237.5"/>
<line x1="329.5" y1="245.5" x2="329.5" y2="269"/>
<rect x="326.5" y="237.5" width="6" height="8.0" fill="#d4a6e3"/>
<line x1="338.5" y1="232" x2="338.5" y2="236.5"/>
<line x1="338.5" y1="237.5" x2="338.5" y2="252"/>
<rect x="335.5" y="236.5" width="6" height="1.0" fill="#222222"/>
<line x1="347.5" y1="227" x2="347.5" y2="241.5"/>
<line x1="347.5" y1="251.5" x2="347.5" y2="260"/>
<rect x="344.5" y="241.5" width="6" height="10.0" fill="#ffffff"/>
<line x1="356.5" y1="225" x2="356.5" y2="231.5"/>
<line x1="356.5" y1="256.5" x2="356.5" y2="274"/>
<rect x="353.5" y="231.5" width="6" height="25.0" fill="#d4a6e3"/>
<line x1="365.5" y1="206" x2="365.5" y2="223.5"/>
<line x1="365.5" y1="223.5" x2="365.5" y2="234"/>
<line x1="362.0" y1="223.5" x2="369.0" y2="223.5"/>
<line x1="374.5" y1="188" x2="374.5" y2="205.5"/>
<line x1="374.5" y1="225.5" x2="374.5" y2="234"/>
<rect x="371.5" y="205.5" width="6" height="20.0" fill="#d4a6e3"/>
<line x1="383.5" y1="182" x2="383.5" y2="186.5"/>
<line x1="383.5" y1="190.5" x2="383.5" y2="205"/>
<rect x="380.5" y="186.5" width="6" height="4.0" fill="#d4a6e3"/>
<line x1="392.5" y1="172" x2="392.5" y2="178.5"/>
<line x1="392.5" y1="188.5" x2="392.5" y2="209"/>
<rect x="389.5" y="178.5" width="6" height="10.0" fill="#d4a6e3"/>
<line x1="401.5" y1="183" x2="401.5" y2="193.5"/>
<line x1="401.5" y1="203.5" x2="401.5" y2="213"/>
<rect x="398.5" y="193.5" width="6" height="10.0" fill="#ffffff"/>
<line x1="411.5" y1="177" x2="411.5" y2="188.5"/>
<line x1="411.5" y1="244.5" x2="411.5" y2="287"/>
<rect x="408.5" y="188.5" width="6" height="56.0" fill="#ffffff"/>
<line x1="420.5" y1="190" x2="420.5" y2="196.5"/>
<line x1="420.5" y1="217.5" x2="420.5" y2="219"/>
<rect x="417.5" y="196.5" width="6" height="21.0" fill="#d4a6e3"/>
<line x1="429.5" y1="157" x2="429.5" y2="162.5"/>
<line x1="429.5" y1="197.5" x2="429.5" y2="200"/>
<rect x="426.5" y="162.5" width="6" height="35.0" fill="#d4a6e3"/>
<line x1="438.5" y1="155" x2="438.5" y2="163.5"/>
<line x1="438.5" y1="186.5" x2="438.5" y2="192"/>
<rect x="435.5" y="163.5" width="6" height="23.0" fill="#ffffff"/>
<line x1="447.5" y1="147" x2="447.5" y2="158.5"/>
<line x1="447.5" y1="199.5" x2="447.5" y2="215"/>
<rect x="444.5" y="158.5" width="6" height="41.0" fill="#ffffff"/>
<line x1="456.5" y1="172" x2="456.5" y2="195.5"/>
<line x1="456.5" y1="206.5" x2="456.5" y2="210"/>
<rect x="453.5" y="195.5" width="6" height="11.0" fill="#d4a6e3"/>
<line x1="465.5" y1="184" x2="465.5" y2="198.5"/>
<line x1="465.5" y1="202.5" x2="465.5" y2="229"/>
<rect x="462.5" y="198.5" width="6" height="4.0" fill="#ffffff"/>
<line x1="474.5" y1="178" x2="474.5" y2="186.5"/>
<line x1="474.5" y1="189.5" x2="474.5" y2="219"/>
<rect x="471.5" y="186.5" width="6" height="3.0" fill="#d4a6e3"/>
<line x1="483.5" y1="154" x2="483.5" y2="164.5"/>
<line x1="483.5" y1="177.5" x2="483.5" y2="182"/>
<rect x="480.5" y="164.5" width="6" height="13.0" fill="#d4a6e3"/>
<line x1="492.5" y1="135" x2="492.5" y2="157.5"/>
<line x1="492.5" y1="162.5" x2="492.5" y2="174"/>
<rect x="489.5" y="157.5" width="6" height="5.0" fill="#d4a6e3"/>
<line x1="501.5" y1="152" x2="501.5" y2="161.5"/>
<line x1="501.5" y1="165.5" x2="501.5" y2="170"/>
<rect x="498.5" y="161.5" width="6" height="4.0" fill="#ffffff"/>
<line x1="510.5" y1="158" x2="510.5" y2="159.5"/>
<line x1="510.5" y1="175.5" x2="510.5" y2="185"/>
<rect x="507.5" y="159.5" width="6" height="16.0" fill="#ffffff"/>
<line x1="519.5" y1="166" x2="519.5" y2="180.5"/>
<line x1="519.5" y1="192.5" x2="519.5" y2="203"/>
<rect x="516.5" y="180.5" width="6" height="12.0" fill="#ffffff"/>
<line x1="528.5" y1="176" x2="528.5" y2="199.5"/>
<line x1="528.5" y1="201.5" x2="528.5" y2="219"/>
<rect x="525.5" y="199.5" width="6" height="2.0" fill="#ffffff"/>
<line x1="537.5" y1="212" x2="537.5" y2="220.5"/>
<line x1="537.5" y1="226.5" x2="537.5" y2="247"/>
<rect x="534.5" y="220.5" width="6" height="6.0" fill="#ffffff"/>
<line x1="546.5" y1="242" x2="546.5" y2="242.5"/>
<line x1="546.5" y1="262.5" x2="546.5" y2="289"/>
<rect x="543.5" y="242.5" width="6" height="20.0" fill="#ffffff"/>
<line x1="555.5" y1="234" x2="555.5" y2="238.5"/>
<line x1="555.5" y1="266.5" x2="555.5" y2="274"/>
<rect x="552.5" y="238.5" width="6" height="28.0" fill="#d4a6e3"/>
<line x1="564.5" y1="254" x2="564.5" y2="263.5"/>
<line x1="564.5" y1="267.5" x2="564.5" y2="289"/>
<rect x="561.5" y="263.5" width="6" height="4.0" fill="#ffffff"/>
<line x1="573.5" y1="262" x2="573.5" y2="282.5"/>
<line x1="573.5" y1="282.5" x2="573.5" y2="292"/>
<line x1="570.0" y1="282.5" x2="577.0" y2="282.5"/>
<line x1="582.5" y1="285" x2="582.5" y2="286.5"/>
<line x1="582.5" y1="318.5" x2="582.5" y2="323"/>
<rect x="579.5" y="286.5" width="6" height="32.0" fill="#ffffff"/>
<line x1="592.5" y1="250" x2="592.5" y2="270.5"/>
<line x1="592.5" y1="292.5" x2="592.5" y2="294"/>
<rect x="589.5" y="270.5" width="6" height="22.0" fill="#d4a6e3"/>
<line x1="601.5" y1="256" x2="601.5" y2="276.5"/>
<line x1="601.5" y1="282.5" x2="601.5" y2="302"/>
<rect x="598.5" y="276.5" width="6" height="6.0" fill="#ffffff"/>
<line x1="610.5" y1="208" x2="610.5" y2="229.5"/>
<line x1="610.5" y1="241.5" x2="610.5" y2="247"/>
<rect x="607.5" y="229.5" width="6" height="12.0" fill="#d4a6e3"/>
<line x1="619.5" y1="216" x2="619.5" y2="217.5"/>
<line x1="619.5" y1="245.5" x2="619.5" y2="252"/>
<rect x="616.5" y="217.5" width="6" height="28.0" fill="#ffffff"/>
<line x1="628.5" y1="219" x2="628.5" y2="232.5"/>
<line x1="628.5" y1="246.5" x2="628.5" y2="249"/>
<rect x="625.5" y="232.5" width="6" height="14.0" fill="#d4a6e3"/>
<line x1="637.5" y1="173" x2="637.5" y2="185.5"/>
<line x1="637.5" y1="218.5" x2="637.5" y2="219"/>
<rect x="634.5" y="185.5" width="6" height="33.0" fill="#d4a6e3"/>
<line x1="646.5" y1="164" x2="646.5" y2="172.5"/>
<line x1="646.5" y1="193.5" x2="646.5" y2="204"/>
<rect x="643.5" y="172.5" width="6" height="21.0" fill="#ffffff"/>
<line x1="655.5" y1="187" x2="655.5" y2="200.5"/>
<line x1="655.5" y1="222.5" x2="655.5" y2="232"/>
<rect x="652.5" y="200.5" width="6" height="22.0" fill="#ffffff"/>
<line x1="664.5" y1="205" x2="664.5" y2="213.5"/>
<line x1="664.5" y1="221.5" x2="664.5" y2="234"/>
<rect x="661.5" y="213.5" width="6" height="8.0" fill="#d4a6e3"/>
<line x1="673.5" y1="192" x2="673.5" y2="199.5"/>
<line x1="673.5" y1="207.5" x2="673.5" y2="216"/>
<rect x="670.5" y="199.5" width="6" height="8.0" fill="#d4a6e3"/>
<line x1="682.5" y1="198" x2="682.5" y2="202.5"/>
<line x1="682.5" y1="212.5" x2="682.5" y2="224"/>
<rect x="679.5" y="202.5" width="6" height="10.0" fill="#ffffff"/>
<line x1="691.5" y1="171" x2="691.5" y2="182.5"/>
<line x1="691.5" y1="200.5" x2="691.5" y2="212"/>
<rect x="688.5" y="182.5" width="6" height="18.0" fill="#d4a6e3"/>
<line x1="700.5" y1="152" x2="700.5" y2="163.5"/>
<line x1="700.5" y1="186.5" x2="700.5" y2="189"/>
<rect x="697.5" y="163.5" width="6" height="23.0" fill="#d4a6e3"/>
<line x1="709.5" y1="106" x2="709.5" y2="121.5"/>
<line x1="709.5" y1="158.5" x2="709.5" y2="162"/>
<rect x="706.5" y="121.5" width="6" height="37.0" fill="#d4a6e3"/>
<line x1="718.5" y1="105" x2="718.5" y2="114.5"/>
<line x1="718.5" y1="127.5" x2="718.5" y2="134"/>
<rect x="715.5" y="114.5" width="6" height="13.0" fill="#ffffff"/>
<line x1="727.5" y1="131" x2="727.5" y2="133.5"/>
<line x1="727.5" y1="158.5" x2="727.5" y2="167"/>
<rect x="724.5" y="133.5" width="6" height="25.0" fill="#ffffff"/>
<line x1="736.5" y1="159" x2="736.5" y2="168.5"/>
<line x1="736.5" y1="171.5" x2="736.5" y2="191"/>
<rect x="733.5" y="168.5" width="6" height="3.0" fill="#ffffff"/>
<line x1="745.5" y1="151" x2="745.5" y2="163.5"/>
<line x1="745.5" y1="177.5" x2="745.5" y2="183"/>
<rect x="742.5" y="163.5" width="6" height="14.0" fill="#ffffff"/>
<line x1="754.5" y1="162" x2="754.5" y2="179.5"/>
<line x1="754.5" y1="187.5" x2="754.5" y2="197"/>
<rect x="751.5" y="179.5" width="6" height="8.0" fill="#ffffff"/>
<line x1="763.5" y1="135" x2="763.5" y2="143.5"/>
<line x1="763.5" y1="166.5" x2="763.5" y2="169"/>
<rect x="760.5" y="143.5" width="6" height="23.0" fill="#d4a6e3"/>
<line x1="772.5" y1="126" x2="772.5" y2="136.5"/>
<line x1="772.5" y1="151.5" x2="772.5" y2="167"/>
<rect x="769.5" y="136.5" width="6" height="15.0" fill="#ffffff"/>
<line x1="782.5" y1="146" x2="782.5" y2="151.5"/>
<line x1="782.5" y1="160.5" x2="782.5" y2="165"/>
<rect x="779.5" y="151.5" width="6" height="9.0" fill="#d4a6e3"/>
<line x1="791.5" y1="154" x2="791.5" y2="156.5"/>
<line x1="791.5" y1="185.5" x2="791.5" y2="201"/>
<rect x="788.5" y="156.5" width="6" height="29.0" fill="#ffffff"/>
<line x1="800.5" y1="121" x2="800.5" y2="162.5"/>
<line x1="800.5" y1="175.5" x2="800.5" y2="181"/>
<rect x="797.5" y="162.5" width="6" height="13.0" fill="#d4a6e3"/>
<line x1="809.5" y1="118" x2="809.5" y2="122.5"/>
<line x1="809.5" y1="150.5" x2="809.5" y2="160"/>
<rect x="806.5" y="122.5" width="6" height="28.0" fill="#d4a6e3"/>
<line x1="818.5" y1="150" x2="818.5" y2="155.5"/>
<line x1="818.5" y1="159.5" x2="818.5" y2="182"/>
<rect x="815.5" y="155.5" width="6" height="4.0" fill="#ffffff"/>
<line x1="827.5" y1="119" x2="827.5" y2="132.5"/>
<line x1="827.5" y1="196.5" x2="827.5" y2="199"/>
<rect x="824.5" y="132.5" width="6" height="64.0" fill="#ffffff"/>
<line x1="836.5" y1="151" x2="836.5" y2="165.5"/>
<line x1="836.5" y1="191.5" x2="836.5" y2="194"/>
<rect x="833.5" y="165.5" width="6" height="26.0" fill="#d4a6e3"/>
<line x1="845.5" y1="150" x2="845.5" y2="156.5"/>
<line x1="845.5" y1="161.5" x2="845.5" y2="173"/>
<rect x="842.5" y="156.5" width="6" height="5.0" fill="#d4a6e3"/>
<line x1="854.5" y1="135" x2="854.5" y2="153.5"/>
<line x1="854.5" y1="179.5" x2="854.5" y2="194"/>
<rect x="851.5" y="153.5" width="6" height="26.0" fill="#ffffff"/>
<line x1="863.5" y1="187" x2="863.5" y2="194.5"/>
<line x1="863.5" y1="257.5" x2="863.5" y2="270"/>
<rect x="860.5" y="194.5" width="6" height="63.0" fill="#ffffff"/>
<line x1="872.5" y1="215" x2="872.5" y2="223.5"/>
<line x1="872.5" y1="256.5" x2="872.5" y2="257"/>
<rect x="869.5" y="223.5" width="6" height="33.0" fill="#d4a6e3"/>
<line x1="881.5" y1="194" x2="881.5" y2="210.5"/>
<line x1="881.5" y1="216.5" x2="881.5" y2="219"/>
<rect x="878.5" y="210.5" width="6" height="6.0" fill="#d4a6e3"/>
<line x1="890.5" y1="187" x2="890.5" y2="204.5"/>
<line x1="890.5" y1="207.5" x2="890.5" y2="216"/>
<rect x="887.5" y="204.5" width="6" height="3.0" fill="#d4a6e3"/>
<line x1="899.5" y1="143" x2="899.5" y2="168.5"/>
<line x1="899.5" y1="196.5" x2="899.5" y2="204"/>
<rect x="896.5" y="168.5" width="6" height="28.0" fill="#d4a6e3"/>
<line x1="908.5" y1="154" x2="908.5" y2="162.5"/>
<line x1="908.5" y1="167.5" x2="908.5" y2="180"/>
<rect x="905.5" y="162.5" width="6" height="5.0" fill="#ffffff"/>
<line x1="917.5" y1="157" x2="917.5" y2="161.5"/>
<line x1="917.5" y1="183.5" x2="917.5" y2="188"/>
<rect x="914.5" y="161.5" width="6" height="22.0" fill="#ffffff"/>
<line x1="926.5" y1="168" x2="926.5" y2="186.5"/>
<line x1="926.5" y1="186.5" x2="926.5" y2="199"/>
<line x1="923.0" y1="186.5" x2="930.0" y2="186.5"/>
<line x1="935.5" y1="161" x2="935.5" y2="169.5"/>
<line x1="935.5" y1="176.5" x2="935.5" y2="183"/>
<rect x="932.5" y="169.5" width="6" height="7.0" fill="#d4a6e3"/>
<line x1="944.5" y1="138" x2="944.5" y2="147.5"/>
<line x1="944.5" y1="162.5" x2="944.5" y2="178"/>
<rect x="941.5" y="147.5" width="6" height="15.0" fill="#d4a6e3"/>
<line x1="953.5" y1="126" x2="953.5" y2="138.5"/>
<line x1="953.5" y1="146.5" x2="953.5" y2="152"/>
<rect x="950.5" y="138.5" width="6" height="8.0" fill="#d4a6e3"/>
<line x1="963.5" y1="136" x2="963.5" y2="138.5"/>
<line x1="963.5" y1="155.5" x2="963.5" y2="163"/>
<rect x="960.5" y="138.5" width="6" height="17.0" fill="#ffffff"/>
<line x1="972.5" y1="138" x2="972.5" y2="140.5"/>
<line x1="972.5" y1="149.5" x2="972.5" y2="158"/>
<rect x="969.5" y="140.5" width="6" height="9.0" fill="#d4a6e3"/>
<line x1="981.5" y1="147" x2="981.5" y2="151.5"/>
<line x1="981.5" y1="159.5" x2="981.5" y2="167"/>
<rect x="978.5" y="151.5" width="6" height="8.0" fill="#ffffff"/>
<line x1="990.5" y1="154" x2="990.5" y2="158.5"/>
<line x1="990.5" y1="158.5" x2="990.5" y2="172"/>
<line x1="987.0" y1="158.5" x2="994.0" y2="158.5"/>
<line x1="999.5" y1="138" x2="999.5" y2="148.5"/>
<line x1="999.5" y1="159.5" x2="999.5" y2="169"/>
<rect x="996.5" y="148.5" width="6" height="11.0" fill="#d4a6e3"/>
<line x1="1008.5" y1="147" x2="1008.5" y2="149.5"/>
<line x1="1008.5" y1="161.5" x2="1008.5" y2="167"/>
<rect x="1005.5" y="149.5" width="6" height="12.0" fill="#ffffff"/>
<line x1="1017.5" y1="161" x2="1017.5" y2="165.5"/>
<line x1="1017.5" y1="171.5" x2="1017.5" y2="190"/>
<rect x="1014.5" y="165.5" width="6" height="6.0" fill="#ffffff"/>
<line x1="1026.5" y1="163" x2="1026.5" y2="168.5"/>
<line x1="1026.5" y1="188.5" x2="1026.5" y2="198"/>
<rect x="1023.5" y="168.5" width="6" height="20.0" fill="#ffffff"/>
<line x1="1035.5" y1="170" x2="1035.5" y2="190.5"/>
<line x1="1035.5" y1="196.5" x2="1035.5" y2="199"/>
<rect x="1032.5" y="190.5" width="6" height="6.0" fill="#ffffff"/>
<line x1="1044.5" y1="187" x2="1044.5" y2="189.5"/>
<line x1="1044.5" y1="205.5" x2="1044.5" y2="211"/>
<rect x="1041.5" y="189.5" width="6" height="16.0" fill="#ffffff"/>
<line x1="1053.5" y1="190" x2="1053.5" y2="194.5"/>
<line x1="1053.5" y1="194.5" x2="1053.5" y2="204"/>
<line x1="1050.0" y1="194.5" x2="1057.0" y2="194.5"/>
<line x1="1062.5" y1="185" x2="1062.5" y2="195.5"/>
<line x1="1062.5" y1="257.5" x2="1062.5" y2="262"/>
<rect x="1059.5" y="195.5" width="6" height="62.0" fill="#ffffff"/>
<line x1="1071.5" y1="233" x2="1071.5" y2="243.5"/>
<line x1="1071.5" y1="245.5" x2="1071.5" y2="258"/>
<rect x="1068.5" y="243.5" width="6" height="2.0" fill="#d4a6e3"/>
<line x1="1080.5" y1="218" x2="1080.5" y2="224.5"/>
<line x1="1080.5" y1="243.5" x2="1080.5" y2="251"/>
<rect x="1077.5" y="224.5" width="6" height="19.0" fill="#d4a6e3"/>
<line x1="1089.5" y1="211" x2="1089.5" y2="219.5"/>
<line x1="1089.5" y1="248.5" x2="1089.5" y2="254"/>
<rect x="1086.5" y="219.5" width="6" height="29.0" fill="#ffffff"/>
<line x1="1098.5" y1="219" x2="1098.5" y2="220.5"/>
<line x1="1098.5" y1="236.5" x2="1098.5" y2="241"/>
<rect x="1095.5" y="220.5" width="6" height="16.0" fill="#d4a6e3"/>
<line x1="1107.5" y1="215" x2="1107.5" y2="224.5"/>
<line x1="1107.5" y1="231.5" x2="1107.5" y2="243"/>
<rect x="1104.5" y="224.5" width="6" height="7.0" fill="#ffffff"/>
<line x1="1116.5" y1="213" x2="1116.5" y2="221.5"/>
<line x1="1116.5" y1="244.5" x2="1116.5" y2="250"/>
<rect x="1113.5" y="221.5" width="6" height="23.0" fill="#ffffff"/>
<line x1="1125.5" y1="226" x2="1125.5" y2="238.5"/>
<line x1="1125.5" y1="245.5" x2="1125.5" y2="254"/>
<rect x="1122.5" y="238.5" width="6" height="7.0" fill="#d4a6e3"/>
<line x1="1134.5" y1="225" x2="1134.5" y2="230.5"/>
<line x1="1134.5" y1="238.5" x2="1134.5" y2="248"/>
<rect x="1131.5" y="230.5" width="6" height="8.0" fill="#ffffff"/>
<line x1="1144.5" y1="217" x2="1144.5" y2="232.5"/>
<line x1="1144.5" y1="237.5" x2="1144.5" y2="242"/>
<rect x="1141.5" y="232.5" width="6" height="5.0" fill="#d4a6e3"/>
<line x1="1153.5" y1="225" x2="1153.5" y2="231.5"/>
<line x1="1153.5" y1="284.5" x2="1153.5" y2="285"/>
<rect x="1150.5" y="231.5" width="6" height="53.0" fill="#ffffff"/>
<line x1="1162.5" y1="266" x2="1162.5" y2="276.5"/>
<line x1="1162.5" y1="281.5" x2="1162.5" y2="290"/>
<rect x="1159.5" y="276.5" width="6" height="5.0" fill="#d4a6e3"/>
<line x1="1171.5" y1="235" x2="1171.5" y2="242.5"/>
<line x1="1171.5" y1="269.5" x2="1171.5" y2="275"/>
<rect x="1168.5" y="242.5" width="6" height="27.0" fill="#d4a6e3"/>
<line x1="1180.5" y1="210" x2="1180.5" y2="219.5"/>
<line x1="1180.5" y1="227.5" x2="1180.5" y2="234"/>
<rect x="1177.5" y="219.5" width="6" height="8.0" fill="#d4a6e3"/>
<line x1="1189.5" y1="219" x2="1189.5" y2="226.5"/>
<line x1="1189.5" y1="241.5" x2="1189.5" y2="257"/>
<rect x="1186.5" y="226.5" width="6" height="15.0" fill="#ffffff"/>
<line x1="1198.5" y1="218" x2="1198.5" y2="230.5"/>
<line x1="1198.5" y1="237.5" x2="1198.5" y2="246"/>
<rect x="1195.5" y="230.5" width="6" height="7.0" fill="#d4a6e3"/>
<line x1="1207.5" y1="216" x2="1207.5" y2="223.5"/>
<line x1="1207.5" y1="239.5" x2="1207.5" y2="247"/>
<rect x="1204.5" y="223.5" width="6" height="16.0" fill="#d4a6e3"/>
<line x1="1216.5" y1="218" x2="1216.5" y2="220.5"/>
<line x1="1216.5" y1="244.5" x2="1216.5" y2="262"/>
<rect x="1213.5" y="220.5" width="6" height="24.0" fill="#ffffff"/>
<line x1="1225.5" y1="214" x2="1225.5" y2="217.5"/>
<line x1="1225.5" y1="236.5" x2="1225.5" y2="242"/>
<rect x="1222.5" y="217.5" width="6" height="19.0" fill="#d4a6e3"/>
<line x1="1234.5" y1="199" x2="1234.5" y2="212.5"/>
<line x1="1234.5" y1="212.5" x2="1234.5" y2="225"/>
<line x1="1231.0" y1="212.5" x2="1238.0" y2="212.5"/>
<line x1="1243.5" y1="190" x2="1243.5" y2="199.5"/>
<line x1="1243.5" y1="213.5" x2="1243.5" y2="224"/>
<rect x="1240.5" y="199.5" width="6" height="14.0" fill="#d4a6e3"/>
<line x1="1252.5" y1="151" x2="1252.5" y2="164.5"/>
<line x1="1252.5" y1="197.5" x2="1252.5" y2="217"/>
<rect x="1249.5" y="164.5" width="6" height="33.0" fill="#d4a6e3"/>
<line x1="1261.5" y1="121" x2="1261.5" y2="129.5"/>
<line x1="1261.5" y1="157.5" x2="1261.5" y2="158"/>
<rect x="1258.5" y="129.5" width="6" height="28.0" fill="#d4a6e3"/>
<line x1="1270.5" y1="117" x2="1270.5" y2="123.5"/>
<line x1="1270.5" y1="135.5" x2="1270.5" y2="141"/>
<rect x="1267.5" y="123.5" width="6" height="12.0" fill="#ffffff"/>
<line x1="1279.5" y1="124" x2="1279.5" y2="130.5"/>
<line x1="1279.5" y1="135.5" x2="1279.5" y2="151"/>
<rect x="1276.5" y="130.5" width="6" height="5.0" fill="#d4a6e3"/>
<line x1="1288.5" y1="127" x2="1288.5" y2="134.5"/>
<line x1="1288.5" y1="136.5" x2="1288.5" y2="147"/>
<rect x="1285.5" y="134.5" width="6" height="2.0" fill="#ffffff"/>
<line x1="1297.5" y1="106" x2="1297.5" y2="107.5"/>
<line x1="1297.5" y1="138.5" x2="1297.5" y2="139"/>
<rect x="1294.5" y="107.5" width="6" height="31.0" fill="#d4a6e3"/>
<line x1="1306.5" y1="88" x2="1306.5" y2="104.5"/>
<line x1="1306.5" y1="106.5" x2="1306.5" y2="116"/>
<rect x="1303.5" y="104.5" width="6" height="2.0" fill="#d4a6e3"/>
<line x1="1315.5" y1="99" x2="1315.5" y2="101.5"/>
<line x1="1315.5" y1="152.5" x2="1315.5" y2="164"/>
<rect x="1312.5" y="101.5" width="6" height="51.0" fill="#ffffff"/>
<line x1="1324.5" y1="130" x2="1324.5" y2="138.5"/>
<line x1="1324.5" y1="138.5" x2="1324.5" y2="153"/>
<line x1="1321.0" y1="138.5" x2="1328.0" y2="138.5"/>
<line x1="1334.5" y1="126" x2="1334.5" y2="134.5"/>
<line x1="1334.5" y1="156.5" x2="1334.5" y2="188"/>
<rect x="1331.5" y="134.5" width="6" height="22.0" fill="#ffffff"/>
<line x1="1343.5" y1="141" x2="1343.5" y2="150.5"/>
<line x1="1343.5" y1="159.5" x2="1343.5" y2="185"/>
<rect x="1340.5" y="150.5" width="6" height="9.0" fill="#ffffff"/>
<line x1="1352.5" y1="150" x2="1352.5" y2="153.5"/>
<line x1="1352.5" y1="166.5" x2="1352.5" y2="184"/>
<rect x="1349.5" y="153.5" width="6" height="13.0" fill="#d4a6e3"/>
<line x1="1361.5" y1="182" x2="1361.5" y2="184.5"/>
<line x1="1361.5" y1="206.5" x2="1361.5" y2="227"/>
<rect x="1358.5" y="184.5" width="6" height="22.0" fill="#ffffff"/>
<line x1="1370.5" y1="144" x2="1370.5" y2="150.5"/>
<line x1="1370.5" y1="195.5" x2="1370.5" y2="198"/>
<rect x="1367.5" y="150.5" width="6" height="45.0" fill="#d4a6e3"/>
<line x1="1379.5" y1="138" x2="1379.5" y2="144.5"/>
<line x1="1379.5" y1="144.5" x2="1379.5" y2="162"/>
<line x1="1376.0" y1="144.5" x2="1383.0" y2="144.5"/>
<line x1="1388.5" y1="142" x2="1388.5" y2="148.5"/>
<line x1="1388.5" y1="168.5" x2="1388.5" y2="194"/>
<rect x="1385.5" y="148.5" width="6" height="20.0" fill="#ffffff"/>
<line x1="1397.5" y1="159" x2="1397.5" y2="161.5"/>
<line x1="1397.5" y1="172.5" x2="1397.5" y2="183"/>
<rect x="1394.5" y="161.5" width="6" height="11.0" fill="#d4a6e3"/>
<line x1="1406.5" y1="151" x2="1406.5" y2="158.5"/>
<line x1="1406.5" y1="163.5" x2="1406.5" y2="171"/>
<rect x="1403.5" y="158.5" width="6" height="5.0" fill="#d4a6e3"/>
<line x1="1415.5" y1="137" x2="1415.5" y2="148.5"/>
<line x1="1415.5" y1="149.5" x2="1415.5" y2="165"/>
<rect x="1412.5" y="148.5" width="6" height="1.0" fill="#222222"/>
<line x1="1424.5" y1="146" x2="1424.5" y2="150.5"/>
<line x1="1424.5" y1="152.5" x2="1424.5" y2="165"/>
<rect x="1421.5" y="150.5" width="6" height="2.0" fill="#ffffff"/>
<line x1="1433.5" y1="149" x2="1433.5" y2="158.5"/>
<line x1="1433.5" y1="173.5" x2="1433.5" y2="189"/>
<rect x="1430.5" y="158.5" width="6" height="15.0" fill="#ffffff"/>
<line x1="1442.5" y1="158" x2="1442.5" y2="171.5"/>
<line x1="1442.5" y1="172.5" x2="1442.5" y2="186"/>
<rect x="1439.5" y="171.5" width="6" height="1.0" fill="#222222"/>
<line x1="1451.5" y1="172" x2="1451.5" y2="172.5"/>
<line x1="1451.5" y1="195.5" x2="1451.5" y2="201"/>
<rect x="1448.5" y="172.5" width="6" height="23.0" fill="#ffffff"/>
<line x1="1460.5" y1="159" x2="1460.5" y2="177.5"/>
<line x1="1460.5" y1="185.5" x2="1460.5" y2="194"/>
<rect x="1457.5" y="177.5" width="6" height="8.0" fill="#d4a6e3"/>
<line x1="1469.5" y1="178" x2="1469.5" y2="180.5"/>
<line x1="1469.5" y1="197.5" x2="1469.5" y2="232"/>
<rect x="1466.5" y="180.5" width="6" height="17.0" fill="#ffffff"/>
<line x1="1478.5" y1="176" x2="1478.5" y2="185.5"/>
<line x1="1478.5" y1="211.5" x2="1478.5" y2="243"/>
<rect x="1475.5" y="185.5" width="6" height="26.0" fill="#d4a6e3"/>
<line x1="1487.5" y1="179" x2="1487.5" y2="181.5"/>
<line x1="1487.5" y1="224.5" x2="1487.5" y2="232"/>
<rect x="1484.5" y="181.5" width="6" height="43.0" fill="#ffffff"/>
<line x1="1496.5" y1="213" x2="1496.5" y2="222.5"/>
<line x1="1496.5" y1="224.5" x2="1496.5" y2="234"/>
<rect x="1493.5" y="222.5" width="6" height="2.0" fill="#ffffff"/>
</g>
</g>
<polygon fill="#1f4fe1" stroke="#1f4fe1" stroke-width="1" stroke-linejoin="round" points="627.7,82.6 640.8,139.8 648.7,137.9 637.1,163.4 619.4,140.9 628.4,144.5"/>
<polygon fill="#1f4fe1" stroke="#1f4fe1" stroke-width="1" stroke-linejoin="round" points="818.2,46.4 813.0,98.0 819.7,95.8 799.7,116.2 791.3,89.0 799.2,92.8"/>
<polygon fill="#1f4fe1" stroke="#1f4fe1" stroke-width="1" stroke-linejoin="round" points="1026.4,70.3 984.0,115.3 990.0,121.0 962.0,124.3 970.8,97.8 974.1,103.4"/>
<polygon fill="#1f4fe1" stroke="#1f4fe1" stroke-width="1" stroke-linejoin="round" points="1242.5,36.1 1278.0,87.3 1282.8,84.0 1280.2,112.6 1255.9,96.7 1263.0,96.1"/>
<g transform="translate(30.5,884.8)" fill="none" stroke="#5b2ee3" stroke-width="1.8" stroke-linecap="butt" stroke-linejoin="miter">
<circle cx="0" cy="0" r="12.4"/>
<path d="M-6,-4.9 L-0.9,0 L8.1,0"/>
<path d="M3.6,-4.6 L8.1,0 L3.6,4.7"/>
<path d="M-6.6,5.5 L-3,1.9"/>
</g>
<g transform="translate(592.6,884.8)" fill="none" stroke="#5b2ee3" stroke-width="1.8" stroke-linecap="butt" stroke-linejoin="miter">
<circle cx="0" cy="0" r="12.4"/>
<path d="M-6,-4.9 L-0.9,0 L8.1,0"/>
<path d="M3.6,-4.6 L8.1,0 L3.6,4.7"/>
<path d="M-6.6,5.5 L-3,1.9"/>
</g>
<g transform="translate(1180.5,884.8)" fill="none" stroke="#5b2ee3" stroke-width="1.8" stroke-linecap="butt" stroke-linejoin="miter">
<circle cx="0" cy="0" r="12.4"/>
<path d="M-6,-4.9 L-0.9,0 L8.1,0"/>
<path d="M3.6,-4.6 L8.1,0 L3.6,4.7"/>
<path d="M-6.6,5.5 L-3,1.9"/>
</g>
<g transform="translate(1496.5,884.8)">
<path d="M3.42,-11.92 A12.4,12.4 0 1 0 11.86,-3.63" fill="none" stroke="#8f27b3" stroke-width="1.7"/>
<polygon fill="#8f27b3" stroke="#8f27b3" stroke-width="0.7" stroke-linejoin="round" points="3.2,-6.2 -4.5,0.65 -0.2,0.65 -3.4,6.4 4.5,-0.4 0.65,-0.4"/>
<circle cx="8.75" cy="-8.5" r="3" fill="#f0283c"/>
</g>
<text class="hd" x="23.5" y="22.4" textLength="30.0" lengthAdjust="spacingAndGlyphs">DAX,</text>
<text class="hd" x="60.2" y="22.4" textLength="73.1" lengthAdjust="spacingAndGlyphs">FINANCIAL,</text>
<text class="hd" x="139.9" y="22.4" textLength="37.5" lengthAdjust="spacingAndGlyphs">INDEX</text>
<text class="hd" x="183.9" y="22.4" textLength="58.1" lengthAdjust="spacingAndGlyphs">FUTURES</text>
<text class="hd" x="248.6" y="22.4" textLength="3.4" lengthAdjust="spacingAndGlyphs">·</text>
<text class="hd" x="259.3" y="22.4" textLength="14.1" lengthAdjust="spacingAndGlyphs">1D</text>
<text class="hd" x="279.7" y="22.4" textLength="3.4" lengthAdjust="spacingAndGlyphs">·</text>
<text class="hd" x="289.7" y="22.4" textLength="41.2" lengthAdjust="spacingAndGlyphs">EUREX</text>
<text class="hd" x="341.6" y="22.4" textLength="53.8" lengthAdjust="spacingAndGlyphs">O23,826</text>
<text class="hd" x="405.9" y="22.4" textLength="52.8" lengthAdjust="spacingAndGlyphs">H23,903</text>
<text class="hd" x="470" y="22.4" textLength="49.6" lengthAdjust="spacingAndGlyphs">L23,721</text>
<text class="hd" x="530.9" y="22.4" textLength="51.9" lengthAdjust="spacingAndGlyphs">C23,803</text>
<text class="hd" x="594" y="22.4" textLength="13.7" lengthAdjust="spacingAndGlyphs">−4</text>
<text class="hd" x="614.7" y="22.4" textLength="54.3" lengthAdjust="spacingAndGlyphs">(−0.02%)</text>
<text class="ax" x="1730.3" y="53.8" textLength="45" lengthAdjust="spacingAndGlyphs">25,200</text>
<text class="ax" x="1730.3" y="104.1" textLength="45" lengthAdjust="spacingAndGlyphs">24,800</text>
<text class="ax" x="1730.3" y="154.3" textLength="45" lengthAdjust="spacingAndGlyphs">24,400</text>
<text class="ax" x="1730.3" y="305.2" textLength="45" lengthAdjust="spacingAndGlyphs">23,200</text>
<text class="ax" x="1730.3" y="355.4" textLength="45" lengthAdjust="spacingAndGlyphs">22,800</text>
<text class="ax" x="1730.3" y="405.7" textLength="45" lengthAdjust="spacingAndGlyphs">22,400</text>
<text class="ax" x="1730.3" y="456.0" textLength="45" lengthAdjust="spacingAndGlyphs">22,000</text>
<text class="ax" x="1730.3" y="506.2" textLength="45" lengthAdjust="spacingAndGlyphs">21,600</text>
<text class="ax" x="1730.3" y="556.5" textLength="45" lengthAdjust="spacingAndGlyphs">21,200</text>
<text class="ax" x="1730.3" y="606.8" textLength="45" lengthAdjust="spacingAndGlyphs">20,800</text>
<text class="ax" x="1730.3" y="657.0" textLength="45" lengthAdjust="spacingAndGlyphs">20,400</text>
<text class="ax" x="1730.3" y="707.3" textLength="45" lengthAdjust="spacingAndGlyphs">20,000</text>
<text class="ax" x="1730.3" y="757.6" textLength="45" lengthAdjust="spacingAndGlyphs">19,600</text>
<text class="ax" x="1730.3" y="807.9" textLength="45" lengthAdjust="spacingAndGlyphs">19,200</text>
<text class="ax" x="1730.3" y="858.1" textLength="45" lengthAdjust="spacingAndGlyphs">18,800</text>
<rect x="1723.5" y="2.5" width="72.5" height="32" rx="5" fill="#fff" stroke="#efefef" stroke-width="1"/>
<text class="ax" x="1735.4" y="23.6" textLength="27" lengthAdjust="spacingAndGlyphs">EUR</text>
<rect x="1720" y="150.5" width="61.7" height="20.5" rx="2" fill="#0b9981"/>
<text class="tag" x="1731.5" y="165.8" textLength="44" lengthAdjust="spacingAndGlyphs">23,892</text>
<rect x="1720" y="173" width="61.7" height="19.80000000000001" rx="2" fill="#7d7d7d"/>
<text class="tag" x="1731.5" y="187.9" textLength="44" lengthAdjust="spacingAndGlyphs">23,870</text>
<rect x="1720" y="194" width="61.7" height="20.30000000000001" rx="2" fill="#f23645"/>
<text class="tag" x="1731.5" y="209.2" textLength="44" lengthAdjust="spacingAndGlyphs">23,851</text>
<text class="ax" x="1731.5" y="229.7" textLength="43.8" lengthAdjust="spacingAndGlyphs">23,803</text>
<text class="ax" x="1732" y="247.2" textLength="57" lengthAdjust="spacingAndGlyphs" style="fill:#5a5a5a">12:12:45</text>
<rect x="1720" y="253.9" width="61.7" height="20.400000000000006" rx="2" fill="#1e88e5"/>
<text class="tag" x="1731.5" y="269.1" textLength="44" lengthAdjust="spacingAndGlyphs">23,602</text>
<text class="ax" x="1640.9" y="230.7" textLength="72" lengthAdjust="spacingAndGlyphs">FDAXZ2025</text>
<text class="mo" x="82.1" y="923.7" textLength="23.7" lengthAdjust="spacingAndGlyphs">Apr</text>
<text class="mo" x="261.8" y="923.7" textLength="26.2" lengthAdjust="spacingAndGlyphs">May</text>
<text class="mo" x="453.7" y="923.7" textLength="22.5" lengthAdjust="spacingAndGlyphs">Jun</text>
<text class="mo" x="645.0" y="923.7" textLength="19.9" lengthAdjust="spacingAndGlyphs">Jul</text>
<text class="mo" x="850.5" y="923.7" textLength="25.2" lengthAdjust="spacingAndGlyphs">Aug</text>
<text class="mo" x="1041.2" y="923.7" textLength="23.9" lengthAdjust="spacingAndGlyphs">Sep</text>
<text class="mo" x="1240.9" y="923.7" textLength="22.5" lengthAdjust="spacingAndGlyphs">Oct</text>
<text class="mo" x="1448.1" y="923.7" textLength="24.5" lengthAdjust="spacingAndGlyphs">Nov</text>
<text class="mo" x="1629.3" y="923.7" textLength="24" lengthAdjust="spacingAndGlyphs">Dec</text>
</svg>
</body></html>
